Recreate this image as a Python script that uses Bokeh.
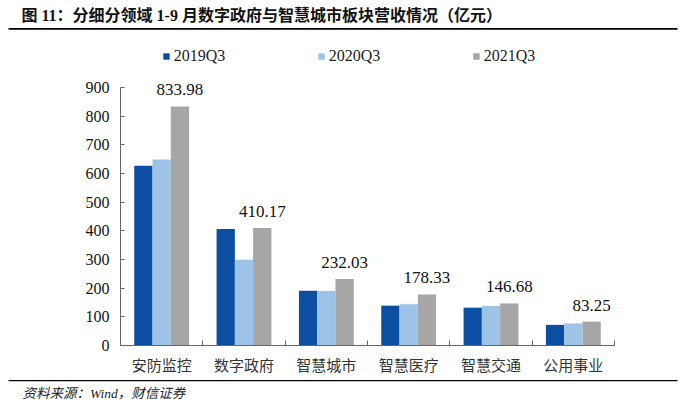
from bokeh.plotting import figure
from bokeh.models import (Range1d, FixedTicker, CustomJSTickFormatter, Label, LabelSet,
                          ColumnDataSource, Legend, LegendItem, BoxAnnotation)
from bokeh.core.properties import value
from bokeh.embed import file_html
from bokeh.resources import INLINE

# ---- data ----
categories = ["安防监控", "数字政府", "智慧城市", "智慧医疗", "智慧交通", "公用事业"]
series_names = ["2019Q3", "2020Q3", "2021Q3"]
v2019 = [627, 406, 191, 139, 132, 72]
v2020 = [649, 299, 190, 144, 138, 77]
v2021 = [833.98, 410.17, 232.03, 178.33, 146.68, 83.25]
y_ticks = [0, 100, 200, 300, 400, 500, 600, 700, 800, 900]

title_text = "图 11：分细分领域 1-9 月数字政府与智慧城市板块营收情况（亿元）"
source_text = "资料来源：Wind，财信证券"

colors = ["#0b4ea2", "#9dc3e6", "#a6a6a6"]
LATIN = "Liberation Serif"
MIXED = "Liberation Serif, Noto Sans CJK SC"
CJK = "Noto Sans CJK SC"

# ---- canvas / plot-area geometry (pixels) ----
W, H = 695, 418
AX_L, AX_R, AX_T, AX_B = 120, 614, 87, 345     # plot area edges in canvas pixels
YMAX = 900
ncat = len(categories)
sx = (AX_R - AX_L) / ncat                      # px per category
sy = (AX_B - AX_T) / YMAX                      # px per unit


def dx(px):
    return (px - AX_L) / sx


def dy(py):
    return (AX_B - py) / sy


p = figure(width=W, height=H, output_backend="svg", toolbar_location=None,
           x_range=Range1d(dx(0), dx(W)), y_range=Range1d(dy(H), dy(0)),
           min_border=0)
p.outline_line_color = None
p.xgrid.visible = False
p.ygrid.visible = False
p.background_fill_color = "white"
p.border_fill_color = "white"

bw = 0.222
offsets = [-bw, 0.0, bw]
centers = [i + 0.5 for i in range(ncat)]
all_vals = [v2019, v2020, v2021]
renderers = []
for k, vals in enumerate(all_vals):
    src = ColumnDataSource(dict(x=[c + offsets[k] for c in centers], top=vals))
    r = p.vbar(x="x", top="top", width=bw, bottom=0, source=src,
               fill_color=colors[k], line_color=None)
    renderers.append(r)

# data labels above 2021Q3 bars
lab_src = ColumnDataSource(dict(x=[c + offsets[2] for c in centers], y=v2021,
                                text=[f"{v:.2f}" for v in v2021]))
p.add_layout(LabelSet(x="x", y="y", text="text", source=lab_src, y_offset=11,
                      text_align="center", text_baseline="alphabetic",
                      text_font=value(LATIN), text_font_size=value("17px"),
                      text_color="#111111"))

# y axis
ya = p.yaxis[0]
ya.fixed_location = 0
ya.bounds = (0, YMAX)
ya.ticker = FixedTicker(ticks=y_ticks)
ya.major_tick_in = 4
ya.major_tick_out = 0
ya.minor_tick_line_color = None
ya.axis_line_color = "#666666"
ya.major_tick_line_color = "#666666"
ya.major_label_text_font = LATIN
ya.major_label_text_font_size = "16px"
ya.major_label_text_color = "#111111"
ya.major_label_standoff = 11

# x axis
xa = p.xaxis[0]
xa.fixed_location = 0
xa.bounds = (0, ncat)
xa.ticker = FixedTicker(ticks=centers, minor_ticks=list(range(ncat + 1)))
xa.formatter = CustomJSTickFormatter(args=dict(labels=categories),
                                     code="return labels[Math.floor(tick)];")
xa.major_tick_in = 0
xa.major_tick_out = 0
xa.minor_tick_in = 5
xa.minor_tick_out = 0
xa.minor_tick_line_color = "#666666"
xa.axis_line_color = "#666666"
xa.major_label_text_font = CJK
xa.major_label_text_font_size = "15px"
xa.major_label_text_color = "#333333"
xa.major_label_standoff = 8

# legend (screen units measured from bottom-left of plot frame = canvas)
legend = Legend(items=[LegendItem(label=series_names[k], renderers=[renderers[k]]) for k in range(3)],
                orientation="horizontal", location=(161.7, H - 64.5),
                padding=0, margin=0, spacing=0, label_width=143, label_standoff=4,
                glyph_width=8, glyph_height=8, label_height=16,
                border_line_color=None, background_fill_alpha=0,
                label_text_font=LATIN, label_text_font_size="16px", label_text_color="#222222")
p.add_layout(legend, "center")

# title, rules, source
p.add_layout(Label(x=dx(21), y=dy(15), text=title_text,
                   text_baseline="middle", text_font=MIXED, text_font_style="bold",
                   text_font_size="16px", text_color="#111111"))
p.add_layout(BoxAnnotation(left=dx(8), right=dx(677), top=dy(27.6), bottom=dy(29.2),
                           fill_color="black", fill_alpha=1, line_color=None))
p.add_layout(BoxAnnotation(left=dx(8), right=dx(677), top=dy(379.4), bottom=dy(380.8),
                           fill_color="black", fill_alpha=1, line_color=None))
p.add_layout(Label(x=dx(22), y=dy(393), text=source_text,
                   text_baseline="middle", text_font=MIXED, text_font_style="italic",
                   text_font_size="13.5px", text_color="#222222"))

open("out.html", "w").write(file_html(p, INLINE))
